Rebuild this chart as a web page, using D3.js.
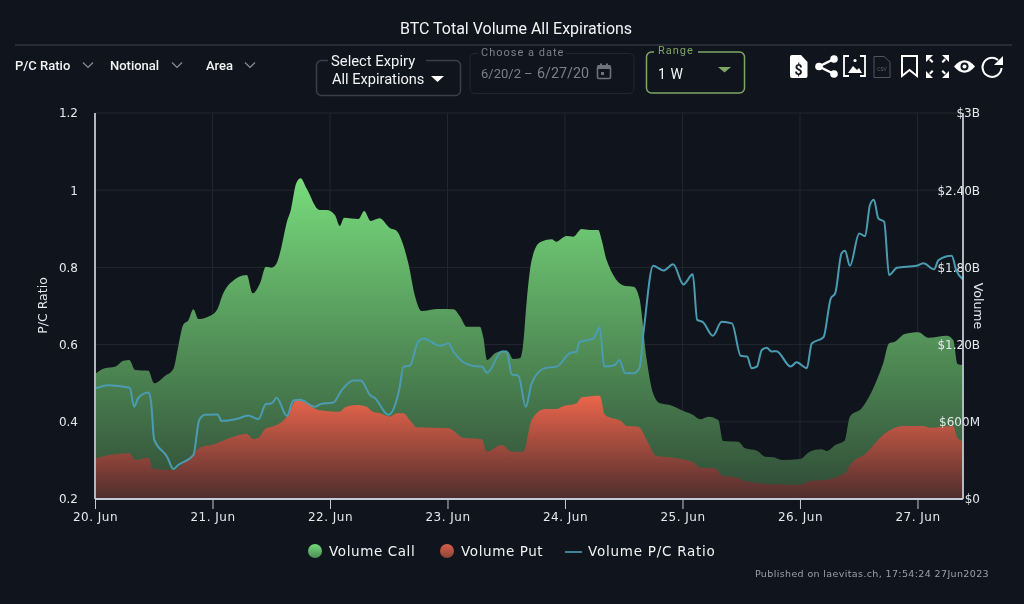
<!DOCTYPE html>
<html><head><meta charset="utf-8">
<style>html,body{margin:0;padding:0;background:#10141c;overflow:hidden}svg{display:block;filter:blur(0.35px)}text{font-family:Roboto,sans-serif}</style>
<script src="https://cdnjs.cloudflare.com/ajax/libs/d3/7.8.5/d3.min.js"></script>
</head><body><svg id="c" width="1024" height="604"></svg>
<script>
const dayLabels=["20. Jun","21. Jun","22. Jun","23. Jun","24. Jun","25. Jun","26. Jun","27. Jun"];
const leftTicks=[0.2,0.4,0.6,0.8,1,1.2];
const rightTicks=[0,600,1200,1800,2400,3000];
const callHours=[0.2,2,4.1,5.8,7,8.2,10.9,12.1,14.3,16,17,18,19.1,20.1,21.1,23.1,24.9,26.2,27.6,31,32.2,33.7,34.9,36.1,37.1,38.1,39.2,40,41.1,42,43.2,45.9,47.3,49,50,50.9,53.8,55,56.3,58.1,60.3,61.6,62.6,64,65.4,66.7,70.1,73.2,74.6,75.9,78.6,79.3,80.1,81.7,83.4,84.4,85.4,86.8,87.4,88.2,89.2,90.9,93.3,94.2,96.3,97.7,99.4,101.1,102.8,103.5,104.5,108.3,110,111.2,112.7,114,115.4,117.4,120.2,122.2,123.6,125.3,127.3,128.3,131.4,132.8,135.2,136.9,138.6,140.3,144,146,148.4,149.5,151.2,153.1,154.2,156.6,159.7,161,162.2,163.4,165.4,168.2,170.2,174,175.3,176.2,177.2];
const callValues=[977,1016,1028,1075,1080,1003,997,899,956,1010,1184,1352,1391,1474,1399,1417,1469,1599,1676,1741,1599,1676,1805,1798,1832,1961,2155,2246,2454,2492,2415,2246,2246,2207,2122,2186,2176,2238,2161,2182,2104,2085,2013,1832,1572,1461,1477,1474,1417,1339,1339,1261,1080,1132,1153,1145,1088,1094,1184,1547,1857,1995,2018,2000,2044,2039,2098,2091,2091,2013,1857,1655,1650,1560,1080,821,744,731,684,653,619,640,614,451,445,394,375,329,324,303,311,368,386,373,420,453,640,705,925,1055,1210,1223,1282,1296,1254,1269,1236,1049,1041];
const putHours=[0.2,2,7.1,8.2,10.9,11.9,16,19.4,21.4,24.5,27.6,31,32.3,33.4,34.9,36.8,39.2,41.2,43.2,45.6,50,51.1,53.5,55.5,56.5,58.2,60.3,61.6,63,64.3,65.7,72.2,75.2,79,80,83.1,85.1,87.5,89.2,91.9,94.3,95.3,98.4,99.4,103.1,104.2,107.6,108.6,111,112.7,114.7,117.4,122.2,123.6,126.6,128.3,130.7,132.8,138.6,144,146,149.1,153.5,154.2,157.3,161.7,165.1,169.2,170.6,175.3,176.2,177.2];
const putValues=[316,334,355,303,321,233,225,329,399,427,476,505,466,476,549,570,640,769,744,692,678,713,731,717,684,666,640,666,666,614,557,549,476,464,368,420,368,368,614,699,699,717,744,790,803,653,601,567,562,459,334,324,285,243,239,179,169,140,114,109,140,148,212,264,350,518,567,567,554,567,472,451];
const ratioHours=[0.2,2.7,7.1,8,8.8,10.9,11.4,12.1,14.7,16,17,20.1,21.3,22.5,25,25.9,28.9,31.3,33.4,34.9,36.1,37.1,39.2,40.5,41.9,44.9,46.1,48.7,50.4,52.8,54.3,56.2,57.2,59.9,62.2,63,64.3,66,67.1,70.5,72.2,73.2,77,79,80.1,83.1,84.1,85.1,86.5,88,89.2,91.9,94.3,97,98.4,98.9,101.8,103.1,104,106.2,107.1,108.3,110,111.2,112.1,114,116.1,118.1,120.2,122.1,123,124.2,126.2,128,130.1,131.9,133.2,134.1,135.2,136.2,137.2,138.2,139.2,142.1,143.3,145.4,146.4,148.8,150.3,151.2,152.5,153.2,154.2,156.1,157.3,158.3,159.1,160,161.2,162.2,163.8,167.8,169.2,171.4,172.3,175,175.9,177.2];
const ratioValues=[.487,.495,.488,.439,.461,.476,.457,.353,.31,.278,.288,.314,.405,.418,.419,.402,.407,.416,.407,.446,.448,.462,.415,.455,.457,.439,.446,.45,.482,.507,.507,.469,.461,.418,.487,.543,.545,.608,.616,.597,.603,.582,.545,.543,.527,.582,.582,.523,.519,.439,.5,.539,.543,.578,.582,.606,.616,.645,.543,.547,.56,.526,.526,.539,.638,.804,.792,.808,.756,.782,.664,.658,.623,.659,.655,.571,.569,.539,.543,.586,.592,.582,.583,.543,.554,.539,.603,.619,.72,.733,.837,.843,.804,.888,.881,.962,.975,.927,.918,.78,.799,.804,.811,.795,.819,.83,.793,.77];

const svg=d3.select("#c");
const H0=95,H1=963,T=113,B=499;
const x=d3.scaleLinear().domain([0,177.3]).range([H0,H1]);
const yL=d3.scaleLinear().domain([0.2,1.2]).range([B,T]);
const yR=d3.scaleLinear().domain([0,3000]).range([B,T]);
const dayTicks=dayLabels.map((_,i)=>i*24);
const defs=svg.append("defs");
function grad(id,stops,vertical){const g=defs.append("linearGradient").attr("id",id);
 g.attr("gradientUnits","userSpaceOnUse").attr("x1",0).attr("x2",0).attr("y1",vertical[0]).attr("y2",vertical[1]);
 stops.forEach((c,i)=>g.append("stop").attr("offset",i/(stops.length-1)).attr("stop-color",c));}
grad("gC",["#78dc7c","#2f4a36"],[178,499]);
grad("gP",["#ec664c","#4d2d2d"],[395,499]);
const mk=(id,a,b)=>{const g=defs.append("linearGradient").attr("id",id).attr("x1",0).attr("x2",0).attr("y1",0).attr("y2",1);
 g.append("stop").attr("offset",0).attr("stop-color",a);g.append("stop").attr("offset",1).attr("stop-color",b);};
mk("mC","#74d878","#4d8f55");mk("mP","#d9604a","#8a4438");

// grid
const grid=svg.append("g").attr("stroke","#23272f").attr("stroke-width",1);
leftTicks.filter(d=>d>0.2).forEach(d=>grid.append("line").attr("x1",H0).attr("x2",H1).attr("y1",yL(d)).attr("y2",yL(d)));
dayTicks.slice(1).forEach(d=>grid.append("line").attr("x1",x(d)).attr("x2",x(d)).attr("y1",T).attr("y2",B));

const zip=(a,b)=>a.map((h,i)=>[h,b[i]]);
const area=d3.area().x(d=>x(d[0])).y0(B).y1(d=>yR(d[1])).curve(d3.curveMonotoneX);
svg.append("path").datum(zip(callHours,callValues)).attr("d",area).attr("fill","url(#gC)");
svg.append("path").datum(zip(putHours,putValues)).attr("d",area).attr("fill","url(#gP)");
svg.append("path").datum(zip(ratioHours,ratioValues))
 .attr("d",d3.line().x(d=>x(d[0])).y(d=>yL(d[1])).curve(d3.curveMonotoneX))
 .attr("fill","none").attr("stroke","#4b9cb2").attr("stroke-width",2);

// axes
const df="'DejaVu Sans'";
const ax=svg.append("g").attr("transform",`translate(0,${B})`).call(
 d3.axisBottom(x).tickValues(dayTicks).tickSize(10).tickPadding(3).tickFormat((d,i)=>dayLabels[i]));
ax.select(".domain").remove();
ax.selectAll("line").attr("stroke","#c4cad6");
ax.selectAll("text").attr("fill","#e6e8ec").attr("font-size",12).style("font-family",df).attr("letter-spacing",.5);
const al=svg.append("g").attr("transform",`translate(${H0-17},0)`).call(
 d3.axisLeft(yL).tickValues(leftTicks).tickSize(0).tickPadding(0).tickFormat(d=>d===1?"1":d3.format(".1f")(d)));
al.select(".domain").remove();
al.selectAll("text").attr("fill","#e6e8ec").attr("font-size",12).style("font-family",df);
const ar=svg.append("g").attr("transform",`translate(980,0)`).call(
 d3.axisRight(yR).tickValues(rightTicks).tickSize(0).tickPadding(0).tickFormat(d=>d===0?"$0":d<1000?"$"+d+"M":d===3000?"$3B":"$"+d3.format(".2f")(d/1000)+"B"));
ar.select(".domain").remove();
ar.selectAll("text").attr("text-anchor","end").attr("fill","#e6e8ec").attr("font-size",12).style("font-family",df);
const axisLines=svg.append("g").attr("stroke","#c4cad6").attr("stroke-width",1.8);
axisLines.append("line").attr("x1",H0).attr("x2",H0).attr("y1",T).attr("y2",B);
axisLines.append("line").attr("x1",H1).attr("x2",H1).attr("y1",T).attr("y2",B);
axisLines.append("line").attr("x1",H0).attr("x2",H1).attr("y1",B).attr("y2",B);
svg.append("text").text("P/C Ratio").attr("transform","translate(43,305.5) rotate(-90)").attr("text-anchor","middle").attr("dominant-baseline","middle").attr("fill","#e6e8ec").attr("font-size",12.5).style("font-family",df);
svg.append("text").text("Volume").attr("transform","translate(977,306) rotate(90)").attr("text-anchor","middle").attr("dominant-baseline","middle").attr("fill","#e6e8ec").attr("font-size",12.5).style("font-family",df);

// title + header
function T_(t,px,py,o={}){const e=svg.append("text").text(t).attr("x",px).attr("y",py).attr("fill",o.c||"#f2f3f5").attr("font-size",o.s||12);
 if(o.a)e.attr("text-anchor",o.a);if(o.w)e.attr("font-weight",o.w);if(o.l)e.attr("letter-spacing",o.l);if(o.f)e.style("font-family",o.f);return e;}
T_("BTC Total Volume All Expirations",516,34,{a:"middle",s:16});
svg.append("line").attr("x1",15).attr("x2",1012).attr("y1",45).attr("y2",45).attr("stroke","#41454c");
T_("P/C Ratio",15,70,{s:13,w:500});T_("Notional",110,70,{s:13,w:500});T_("Area",206,70,{s:13,w:500});
[88,177,250].forEach(cx=>svg.append("path").attr("d",`M${cx-5},62.5L${cx},67.5L${cx+5},62.5`).attr("fill","none").attr("stroke","#8a8f98").attr("stroke-width",1.2));
svg.append("rect").attr("x",316.5).attr("y",60.5).attr("width",144).attr("height",35).attr("rx",5).attr("fill","none").attr("stroke","#3a3f48").attr("stroke-width",1.5);
svg.append("rect").attr("x",328).attr("y",55).attr("width",98).attr("height",12).attr("fill","#10141c");
T_("Select Expiry",331,66,{s:14.8});T_("All Expirations",332,84,{s:14.6});
svg.append("path").attr("d","M431,76H444L437.5,82Z").attr("fill","#fff");
svg.append("rect").attr("x",470).attr("y",53.5).attr("width",164).attr("height",40).attr("rx",5).attr("fill","none").attr("stroke","#23272f");
svg.append("rect").attr("x",478).attr("y",48).attr("width",88).attr("height",10).attr("fill","#10141c");
T_("Choose a date",481,56,{s:11,c:"#7c8088",l:1});
T_("6/20/2",481,78,{s:13,c:"#7c8088"});T_("–",524,78,{s:13,c:"#7c8088"});T_("6/27/20",537,78,{s:14.3,c:"#7c8088"});
svg.append("rect").attr("x",597.5).attr("y",66.5).attr("width",13).attr("height",12).attr("rx",1.5).attr("fill","none").attr("stroke","#6e727a").attr("stroke-width",1.6);
svg.append("path").attr("d","M597.5,65H610.5V69H597.5ZM600,63.5H602V66H600ZM606,63.5H608V66H606Z").attr("fill","#6e727a");
svg.append("rect").attr("x",601).attr("y",72).attr("width",3).attr("height",3).attr("fill","#6e727a");
svg.append("rect").attr("x",646.5).attr("y",52).attr("width",98).attr("height",41).attr("rx",5).attr("fill","none").attr("stroke","#7ea665").attr("stroke-width",1.5);
svg.append("rect").attr("x",654).attr("y",47).attr("width",44).attr("height",10).attr("fill","#10141c");
T_("Range",658,54,{s:11,c:"#7ea665",l:1});T_("1 W",658,79,{s:14,l:.6});
svg.append("path").attr("d","M718,67H731L724.5,72.5Z").attr("fill","#7ea665");
// toolbar icons
const ic=svg.append("g");
ic.append("path").attr("d","M790,57Q790,55 792,55H801L807.5,62V76Q807.5,78 805.5,78H792Q790,78 790,76Z").attr("fill","#fff");
T_("$",798.5,75,{s:14,a:"middle",w:700,c:"#10141c"});
ic.append("path").attr("d","M834,59L819,66.5L834,74").attr("fill","none").attr("stroke","#fff").attr("stroke-width",2.5);
[[834,59],[819,66.5],[834,74]].forEach(p=>ic.append("circle").attr("cx",p[0]).attr("cy",p[1]).attr("r",3.8).attr("fill","#fff"));
ic.append("path").attr("d","M849,56H844V76H849M860,56H865V76H860").attr("fill","none").attr("stroke","#fff").attr("stroke-width",1.8);
ic.append("path").attr("d","M848,73L853,66L857,70L859,68L862,73Z").attr("fill","#fff");ic.append("circle").attr("cx",855).attr("cy",60.5).attr("r",1.6).attr("fill","#fff");
ic.append("path").attr("d","M874,56.5H884L890,62V77.5H874Z").attr("fill","none").attr("stroke","#50545c");
T_("CSV",882,71,{s:5,a:"middle",c:"#60646c"});
ic.append("path").attr("d","M902,56H917V76L909.5,70L902,76Z").attr("fill","none").attr("stroke","#fff").attr("stroke-width",2);
ic.append("path").attr("d","M926,55H933L926,62ZM929,60L932,63L933.5,61.5L930.5,58.5ZM949,55H942L949,62ZM946,60L943,63L941.5,61.5L944.5,58.5ZM926,78H933L926,71ZM929,73L932,70L933.5,71.5L930.5,74.5ZM949,78H942L949,71ZM946,73L943,70L941.5,71.5L944.5,74.5Z").attr("fill","#fff");
ic.append("path").attr("d","M954,66.5Q964.5,54 975,66.5Q964.5,79 954,66.5Z").attr("fill","#fff");
ic.append("circle").attr("cx",964.5).attr("cy",66.5).attr("r",4).attr("fill","#10141c");ic.append("circle").attr("cx",964.5).attr("cy",66.5).attr("r",2).attr("fill","#fff");
ic.append("path").attr("d","M998,60A9.5,9.5 0 1 0 1001.5,68").attr("fill","none").attr("stroke","#fff").attr("stroke-width",2);
ic.append("path").attr("d","M1003,56V65H994Z").attr("fill","#fff");

// legend
svg.append("circle").attr("cx",315).attr("cy",551).attr("r",7).attr("fill","url(#mC)");
T_("Volume Call",329,556,{s:13.5,l:.6,f:df});
svg.append("circle").attr("cx",447).attr("cy",551).attr("r",7).attr("fill","url(#mP)");
T_("Volume Put",461,556,{s:13.5,l:.6,f:df});
svg.append("line").attr("x1",565).attr("x2",582).attr("y1",552).attr("y2",552).attr("stroke","#3f8296").attr("stroke-width",2);
T_("Volume P/C Ratio",588,556,{s:13.5,l:.75,f:df});
T_("Published on laevitas.ch, 17:54:24 27Jun2023",989,577,{s:9.5,a:"end",c:"#9ba0a8",l:.37,f:df});
</script></body></html>
